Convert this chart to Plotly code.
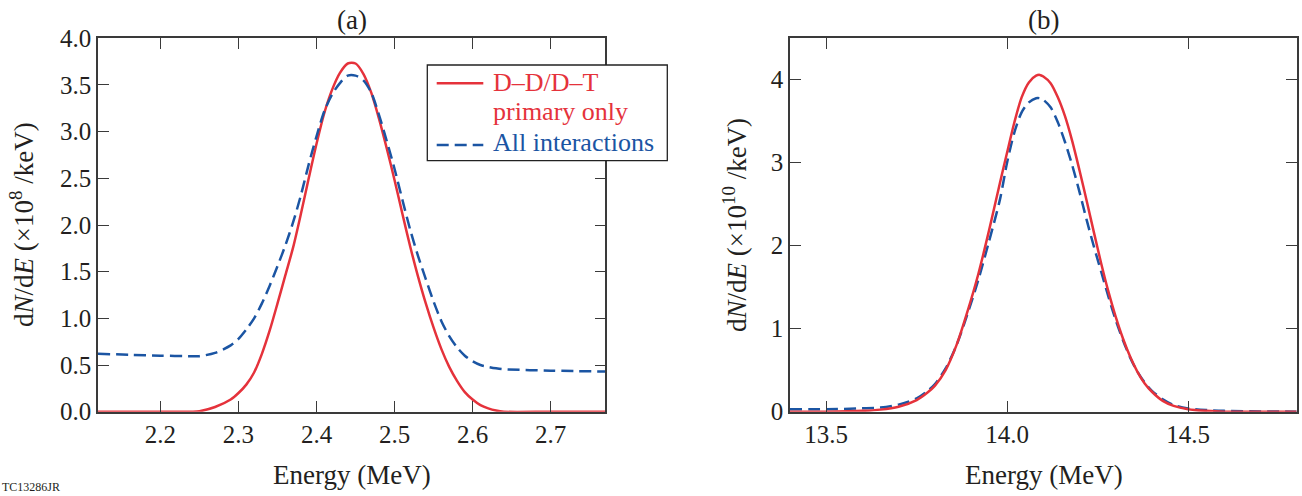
import plotly.graph_objects as go

# ---- Panel (a): D-D neutron spectrum (x10^8 /keV) ----
energy_a = [2.12, 2.16, 2.20, 2.24, 2.25, 2.27, 2.29, 2.30, 2.31, 2.32, 2.33, 2.34,
            2.35, 2.36, 2.37, 2.38, 2.39, 2.40, 2.41, 2.42, 2.43, 2.44, 2.45,
            2.46, 2.47, 2.48, 2.49, 2.50, 2.51, 2.52, 2.53, 2.54, 2.55, 2.56, 2.57,
            2.58, 2.59, 2.60, 2.61, 2.62, 2.63, 2.64, 2.70, 2.77]
primary_a = [0.0, 0.0, 0.0, 0.0, 0.005, 0.05, 0.13, 0.2, 0.29, 0.42, 0.62, 0.87,
             1.16, 1.46, 1.76, 2.12, 2.5, 2.87, 3.2, 3.45, 3.63, 3.73, 3.73,
             3.62, 3.42, 3.14, 2.82, 2.48, 2.12, 1.77, 1.45, 1.16, 0.9, 0.67, 0.48,
             0.33, 0.21, 0.13, 0.07, 0.035, 0.012, 0.0, 0.0, 0.0]
all_a = [0.62, 0.61, 0.60, 0.595, 0.595, 0.63, 0.71, 0.78, 0.88, 1.0, 1.16, 1.35,
         1.56, 1.78, 2.03, 2.32, 2.65, 2.95, 3.22, 3.4, 3.52, 3.6, 3.6,
         3.55, 3.42, 3.18, 2.9, 2.6, 2.27, 1.95, 1.67, 1.42, 1.18, 0.97, 0.81,
         0.69, 0.6, 0.54, 0.5, 0.48, 0.465, 0.455, 0.44, 0.43]

# ---- Panel (b): D-T neutron spectrum (x10^10 /keV) ----
energy_b = [13.40, 13.50, 13.60, 13.65, 13.70, 13.75, 13.78, 13.80, 13.83, 13.86,
            13.89, 13.92, 13.95, 13.98, 14.00, 14.02, 14.04, 14.06, 14.08, 14.09,
            14.10, 14.12, 14.14, 14.16, 14.18, 14.20, 14.22, 14.24, 14.26, 14.28,
            14.30, 14.32, 14.34, 14.36, 14.38, 14.40, 14.43, 14.46, 14.50, 14.55,
            14.60, 14.80]
primary_b = [0.0, 0.0, 0.01, 0.025, 0.06, 0.14, 0.23, 0.31, 0.5, 0.8,
             1.2, 1.65, 2.18, 2.75, 3.12, 3.48, 3.78, 3.96, 4.04, 4.05,
             4.03, 3.95, 3.78, 3.55, 3.25, 2.9, 2.53, 2.15, 1.78, 1.44,
             1.14, 0.88, 0.66, 0.48, 0.34, 0.24, 0.13, 0.07, 0.03, 0.01,
             0.0, 0.0]
all_b = [0.03, 0.03, 0.04, 0.05, 0.085, 0.16, 0.25, 0.33, 0.52, 0.8,
         1.17, 1.58, 2.05, 2.55, 3.0, 3.36, 3.6, 3.72, 3.77, 3.77,
         3.75, 3.66, 3.48, 3.24, 2.96, 2.64, 2.3, 1.98, 1.68, 1.38,
         1.1, 0.86, 0.65, 0.48, 0.35, 0.25, 0.15, 0.08, 0.04, 0.02,
         0.01, 0.0]

x_ticks_a = [2.2, 2.3, 2.4, 2.5, 2.6, 2.7]
y_ticks_a = [0.0, 0.5, 1.0, 1.5, 2.0, 2.5, 3.0, 3.5, 4.0]
x_ticks_b = [13.5, 14.0, 14.5]
y_ticks_b = [0, 1, 2, 3, 4]

legend_lines = ["D–D/D–T", "primary only", "All interactions"]

RED = "#e5323b"
BLUE = "#1b55a3"
INK = "#231f20"
AXIS = "#3a3a3a"
SERIF = "Times New Roman, Liberation Serif, DejaVu Serif, serif"
DASH = "12px,6px"

W, H = 1302, 496


def px_x(p):
    return p / W


def px_y(p):
    return 1 - p / H


fig = go.Figure()

fig.add_trace(go.Scatter(
    x=energy_a, y=primary_a, mode="lines", line_shape="spline",
    line=dict(color=RED, width=2.5, smoothing=0.8),
    name="D–D/D–T primary only", showlegend=False, xaxis="x", yaxis="y"))
fig.add_trace(go.Scatter(
    x=energy_a, y=all_a, mode="lines", line_shape="spline",
    line=dict(color=BLUE, width=2.5, dash=DASH, smoothing=0.8),
    name="All interactions", showlegend=False, xaxis="x", yaxis="y"))
fig.add_trace(go.Scatter(
    x=energy_b, y=all_b, mode="lines", line_shape="spline",
    line=dict(color=BLUE, width=2.5, dash=DASH, smoothing=0.8),
    name="All interactions", showlegend=False, xaxis="x2", yaxis="y2"))
fig.add_trace(go.Scatter(
    x=energy_b, y=primary_b, mode="lines", line_shape="spline",
    line=dict(color=RED, width=2.5, smoothing=0.8),
    name="D–D/D–T primary only", showlegend=False, xaxis="x2", yaxis="y2"))

axis_common = dict(
    showline=True, linecolor=AXIS, linewidth=1.5, mirror="ticks",
    ticks="inside", ticklen=11, tickwidth=1.3, tickcolor=AXIS,
    showgrid=False, zeroline=False,
    tickfont=dict(family=SERIF, size=25, color=INK),
)

y_dom = [px_y(411.7), px_y(38.3)]

fig.update_layout(
    width=W, height=H,
    margin=dict(l=0, r=0, t=0, b=0, autoexpand=False),
    paper_bgcolor="white", plot_bgcolor="white",
    font=dict(family=SERIF, color=INK),
    showlegend=False,
    xaxis=dict(domain=[px_x(98), px_x(605.3)], range=[2.12, 2.77],
               tickvals=x_ticks_a, tickformat=".1f", anchor="y", **axis_common),
    yaxis=dict(domain=y_dom, range=[0, 4.0],
               tickvals=y_ticks_a, tickformat=".1f", anchor="x", **axis_common),
    xaxis2=dict(domain=[px_x(790), px_x(1296.7)], range=[13.4, 14.8],
                tickvals=x_ticks_b, tickformat=".1f", anchor="y2", **axis_common),
    yaxis2=dict(domain=y_dom, range=[0, 4.49],
                tickvals=y_ticks_b, tickformat="d", anchor="x2", **axis_common),
)

# Key box for panel (a): frame plus line samples
shapes = [
    dict(type="rect", xref="paper", yref="paper",
         x0=px_x(427.3), x1=px_x(667.3), y0=px_y(160.7), y1=px_y(65),
         fillcolor="white", line=dict(color="#222222", width=1.3), layer="above"),
    dict(type="line", xref="paper", yref="paper",
         x0=px_x(436.7), x1=px_x(483.3), y0=px_y(83.3), y1=px_y(83.3),
         line=dict(color=RED, width=2.5), layer="above"),
    dict(type="line", xref="paper", yref="paper",
         x0=px_x(436.7), x1=px_x(483.3), y0=px_y(145), y1=px_y(145),
         line=dict(color=BLUE, width=2.5, dash=DASH), layer="above"),
]
fig.update_layout(shapes=shapes)

ylab_a = "d<i>N</i>/d<i>E</i> (×10<sup>8</sup> /keV)"
ylab_b = "d<i>N</i>/d<i>E</i> (×10<sup>10</sup> /keV)"

annotations = [
    dict(text="(a)", x=px_x(351.5), y=px_y(20), xanchor="center", yanchor="middle"),
    dict(text="(b)", x=px_x(1043.5), y=px_y(20), xanchor="center", yanchor="middle"),
    dict(text="Energy (MeV)", x=px_x(351.5), y=px_y(475), xanchor="center", yanchor="middle"),
    dict(text="Energy (MeV)", x=px_x(1043.5), y=px_y(475), xanchor="center", yanchor="middle"),
    dict(text=ylab_a, x=px_x(22), y=px_y(225), xanchor="center", yanchor="middle", textangle=-90),
    dict(text=ylab_b, x=px_x(735), y=px_y(225), xanchor="center", yanchor="middle", textangle=-90),
]
for a in annotations:
    a.update(xref="paper", yref="paper", showarrow=False,
             font=dict(family=SERIF, size=27, color=INK))

# Key text, coloured like the curves
for text, color, yc in zip(legend_lines, [RED, RED, BLUE], [82.5, 111.5, 142.5]):
    annotations.append(dict(text=text, x=px_x(491), y=px_y(yc), xref="paper", yref="paper",
                            xanchor="left", yanchor="middle", showarrow=False,
                            font=dict(family=SERIF, size=26, color=color)))

annotations.append(dict(text="TC13286JR", x=0.0, y=0.0, xref="paper", yref="paper",
                        xanchor="left", yanchor="bottom", showarrow=False,
                        font=dict(family=SERIF, size=12, color=INK)))
fig.update_layout(annotations=annotations)

fig.write_html("out.html")
